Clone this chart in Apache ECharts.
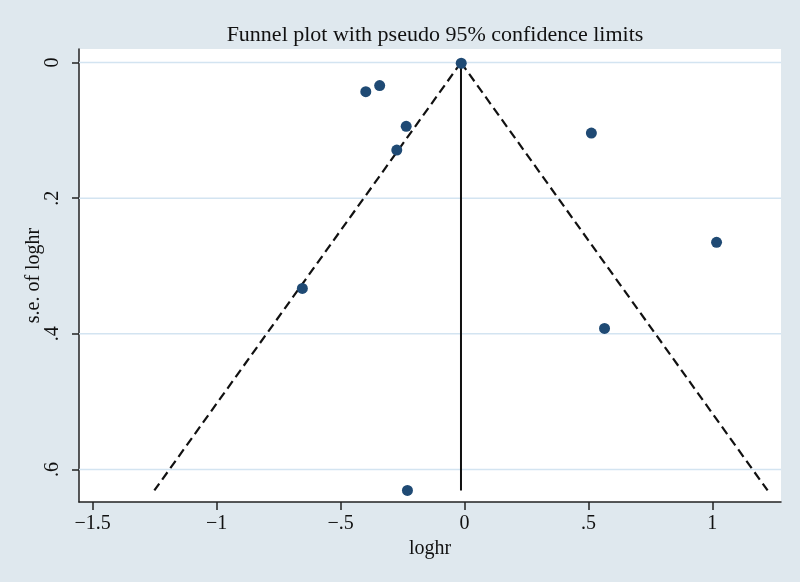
<!DOCTYPE html>
<html>
<head>
<meta charset="utf-8">
<script src="https://cdn.jsdelivr.net/npm/echarts@6/dist/echarts.min.js"></script>
<style>
  html, body { margin: 0; padding: 0; background: #dfe8ee; }
  #chart { width: 800px; height: 582px; }
</style>
</head>
<body>
<div id="chart"></div>
<script>
  // studies: [loghr, s.e. of loghr]
  var studies = [
    [-0.013, 0.001],
    [-0.398, 0.043],
    [-0.342, 0.034],
    [-0.235, 0.094],
    [-0.273, 0.129],
    [0.512, 0.104],
    [1.017, 0.265],
    [-0.654, 0.333],
    [0.565, 0.392],
    [-0.230, 0.631]
  ];
  // pooled estimate line
  var pooledLine = [[-0.014, 0], [-0.014, 0.631]];
  // pseudo 95% limits
  var limitLeft = [[-0.014, 0], [-1.251, 0.631]];
  var limitRight = [[-0.014, 0], [1.223, 0.631]];
  var xTicks = [-1.5, -1, -0.5, 0, 0.5, 1];
  var yTicks = [0, 0.2, 0.4, 0.6];

  var xMin = -1.555, xMax = 1.277;

  function stataFmt(v) {
    var s = String(Math.abs(v));
    if (s.indexOf('0.') === 0) s = s.slice(1);
    return (v < 0 ? '\u2212' : '') + s;
  }

  var font = '"Liberation Serif", "Times New Roman", serif';

  // horizontal grid lines at the y ticks
  var gridSeries = yTicks.map(function (v) {
    return {
      type: 'line', data: [[xMin, v], [xMax, v]], symbol: 'none', silent: true,
      lineStyle: { color: '#d3e4f1', width: 1.5 },
      z: 1
    };
  });

  var option = {
    backgroundColor: '#dfe8ee',
    animation: false,
    title: {
      text: 'Funnel plot with pseudo 95% confidence limits',
      left: 430,
      textAlign: 'center',
      top: 19,
      textStyle: { fontFamily: font, fontSize: 22, fontWeight: 'normal', color: '#111' }
    },
    grid: {
      left: 79, top: 49, right: 19, bottom: 80,
      show: true, backgroundColor: '#fff', borderWidth: 0
    },
    xAxis: {
      type: 'value',
      min: xMin, max: xMax,
      name: 'loghr',
      nameLocation: 'middle',
      nameGap: 35,
      nameTextStyle: { fontFamily: font, fontSize: 20, color: '#111' },
      axisLine: { show: true, onZero: false, lineStyle: { color: '#222', width: 1.5 } },
      axisTick: { show: true, length: 8, customValues: xTicks, lineStyle: { color: '#222', width: 1.5 } },
      axisLabel: {
        customValues: xTicks, margin: 12,
        fontFamily: font, fontSize: 20, color: '#111',
        formatter: stataFmt
      },
      splitLine: { show: false }
    },
    yAxis: {
      type: 'value',
      inverse: true,
      min: -0.02, max: 0.648,
      name: 's.e. of loghr',
      nameLocation: 'middle',
      nameGap: 35,
      nameMoveOverlap: false,
      nameTextStyle: { fontFamily: font, fontSize: 20, color: '#111' },
      axisLine: { show: true, onZero: false, lineStyle: { color: '#222', width: 1.5 } },
      axisTick: { show: true, length: 7, customValues: yTicks, lineStyle: { color: '#222', width: 1.5 } },
      axisLabel: {
        customValues: yTicks, rotate: 90, margin: 16,
        fontFamily: font, fontSize: 20, color: '#111',
        formatter: stataFmt
      },
      splitLine: { show: false }
    },
    series: gridSeries.concat([
      {
        type: 'line', data: limitLeft, symbol: 'none', silent: true,
        lineStyle: { color: '#111', width: 2.2, type: [9, 5] },
        z: 3
      },
      {
        type: 'line', data: limitRight, symbol: 'none', silent: true,
        lineStyle: { color: '#111', width: 2.2, type: [9, 5] },
        z: 3
      },
      {
        type: 'line', data: pooledLine, symbol: 'none', silent: true,
        lineStyle: { color: '#111', width: 2 },
        z: 3
      },
      {
        type: 'scatter', data: studies,
        symbol: 'circle', symbolSize: 11,
        itemStyle: { color: '#1f4a74', opacity: 1 },
        z: 4
      }
    ])
  };

  echarts.init(document.getElementById('chart')).setOption(option);
</script>
</body>
</html>
